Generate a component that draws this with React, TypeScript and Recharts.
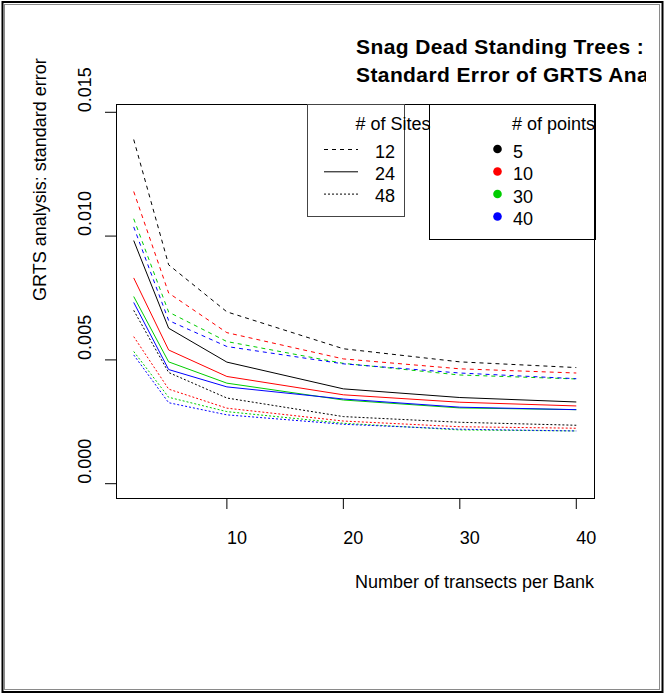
import { Label, Legend, Line, LineChart, ReferenceArea, XAxis, YAxis } from 'recharts'

// transects per bank (x) and standard error for each sites/points combination
const transects = [2, 5, 10, 20, 30, 40]

const se12p5 = [0.0139, 0.00884, 0.00694, 0.00545, 0.00492, 0.00469]
const se12p10 = [0.0118, 0.0077, 0.0061, 0.00504, 0.00464, 0.00447]
const se12p30 = [0.0107, 0.00693, 0.00574, 0.00486, 0.00439, 0.00423]
const se12p40 = [0.01037, 0.00659, 0.00554, 0.00484, 0.00447, 0.00424]

const se24p5 = [0.00982, 0.00628, 0.00491, 0.00383, 0.00348, 0.0033]
const se24p10 = [0.00831, 0.0054, 0.00433, 0.00359, 0.00329, 0.00314]
const se24p30 = [0.00756, 0.00492, 0.00406, 0.00338, 0.00306, 0.00299]
const se24p40 = [0.00732, 0.00461, 0.00391, 0.00342, 0.00309, 0.00299]

const se48p5 = [0.007, 0.00449, 0.00346, 0.00271, 0.00248, 0.00236]
const se48p10 = [0.00594, 0.00382, 0.00305, 0.00253, 0.0023, 0.00224]
const se48p30 = [0.00534, 0.00349, 0.00291, 0.00244, 0.00217, 0.00213]
const se48p40 = [0.0052, 0.00327, 0.00278, 0.0024, 0.0022, 0.00213]

const siteCounts = [12, 24, 48]
const pointCounts = [5, 10, 30, 40]
const xTicks = [10, 20, 30, 40]
const yTicks = [0, 0.005, 0.01, 0.015]

const series = [
  { sites: 12, points: 5, values: se12p5 },
  { sites: 12, points: 10, values: se12p10 },
  { sites: 12, points: 30, values: se12p30 },
  { sites: 12, points: 40, values: se12p40 },
  { sites: 24, points: 5, values: se24p5 },
  { sites: 24, points: 10, values: se24p10 },
  { sites: 24, points: 30, values: se24p30 },
  { sites: 24, points: 40, values: se24p40 },
  { sites: 48, points: 5, values: se48p5 },
  { sites: 48, points: 10, values: se48p10 },
  { sites: 48, points: 30, values: se48p30 },
  { sites: 48, points: 40, values: se48p40 },
]

const keyOf = (s: { sites: number; points: number }) => `s${s.sites}p${s.points}`

const rows = transects.map((x, i) => {
  const row: Record<string, number> = { x }
  series.forEach((s) => {
    row[keyOf(s)] = s.values[i]
  })
  return row
})

const DASH: Record<number, string | undefined> = { 12: '4 4', 24: undefined, 48: '2 2' }
const COLOR: Record<number, string> = { 5: '#000000', 10: '#ff0000', 30: '#00cd00', 40: '#0000ff' }

const FONT = '"Liberation Sans", Arial, Helvetica, sans-serif'
const W = 665
const H = 694
const PLOT = { left: 116, top: 104, right: 594, bottom: 498 }
const X_DOMAIN: [number, number] = [0.48, 41.52]
const Y_DOMAIN: [number, number] = [-0.000578, 0.015335]

function YTick({ x, y, payload }: any) {
  const bx = x - 12
  return (
    <text x={bx} y={y} transform={`rotate(-90 ${bx} ${y})`} fontSize={18} fontFamily={FONT} fill="#000">
      {Number(payload.value).toFixed(3)}
    </text>
  )
}

function XTick({ x, y, payload }: any) {
  return (
    <text x={x} y={y + 32.5} fontSize={18} fontFamily={FONT} fill="#000">
      {payload.value}
    </text>
  )
}

function LegendBoxes() {
  const t = { fontSize: 18, fontFamily: FONT, fill: '#000' }
  return (
    <svg width={300} height={145} style={{ display: 'block', overflow: 'visible' }}>
      <g transform="translate(-300 -100)">
        <rect x={307.5} y={104.5} width={97} height={112} fill="none" stroke="#444" />
        <text x={355.5} y={130} {...t}># of Sites</text>
        {siteCounts.map((n, i) => (
          <g key={n}>
            <line x1={324} x2={358} y1={149.5 + 22.3 * i} y2={149.5 + 22.3 * i} stroke="#000" strokeDasharray={DASH[n]} />
            <text x={375} y={158 + 22 * i} {...t}>{n}</text>
          </g>
        ))}
        <rect x={429.5} y={104.5} width={166} height={135} fill="none" stroke="#000" />
        <text x={512} y={130} {...t}># of points</text>
        {pointCounts.map((n, i) => (
          <g key={n}>
            <circle cx={497.5} cy={149 + 22.5 * i} r={4.3} fill={COLOR[n]} />
            <text x={513} y={158 + 22.4 * i} {...t}>{n}</text>
          </g>
        ))}
      </g>
    </svg>
  )
}

export default function App() {
  const cx = (PLOT.left + PLOT.right) / 2
  const cy = (PLOT.top + PLOT.bottom) / 2
  return (
    <div style={{ position: 'absolute', left: 0, top: 0, width: W, height: H, background: '#fff' }}>
      <LineChart
        width={W}
        height={H}
        data={rows}
        margin={{ top: PLOT.top, right: W - PLOT.right, bottom: 0, left: 0 }}
      >
        <XAxis
          dataKey="x"
          type="number"
          domain={X_DOMAIN}
          ticks={xTicks}
          allowDataOverflow
          height={H - PLOT.bottom}
          axisLine={false}
          tickLine={{ stroke: '#000' }}
          tickSize={11}
          tick={<XTick />}
        >
          <Label
            content={() => (
              <text x={cx} y={587.5} fontSize={18} fontFamily={FONT} fill="#000">
                Number of transects per Bank
              </text>
            )}
          />
        </XAxis>
        <YAxis
          type="number"
          domain={Y_DOMAIN}
          ticks={yTicks}
          allowDataOverflow
          width={PLOT.left}
          axisLine={false}
          tickLine={{ stroke: '#000' }}
          tickSize={11}
          tick={<YTick />}
        >
          <Label
            content={() => (
              <text x={46} y={cy} transform={`rotate(-90 46 ${cy})`} fontSize={18} fontFamily={FONT} fill="#000">
                GRTS analysis: standard error
              </text>
            )}
          />
        </YAxis>
        <ReferenceArea
          x1={X_DOMAIN[0]}
          x2={X_DOMAIN[1]}
          y1={Y_DOMAIN[0]}
          y2={Y_DOMAIN[1]}
          fill="none"
          stroke="#000"
          strokeWidth={1}
          shapeRendering="crispEdges"
        />
        {series.map((s) => (
          <Line
            key={keyOf(s)}
            dataKey={keyOf(s)}
            stroke={COLOR[s.points]}
            strokeDasharray={DASH[s.sites]}
            strokeWidth={1}
            dot={false}
            activeDot={false}
            type="linear"
            isAnimationActive={false}
          />
        ))}
        <Legend
          layout="horizontal"
          verticalAlign="middle"
          align="center"
          wrapperStyle={{ left: 300, top: 100, width: 300, height: 145 }}
          content={() => <LegendBoxes />}
        />
      </LineChart>
      <svg
        width={W}
        height={H}
        style={{ position: 'absolute', left: 0, top: 0, pointerEvents: 'none' }}
      >
        <defs>
          <clipPath id="titleClip">
            <rect x={0} y={0} width={646} height={H} />
          </clipPath>
        </defs>
        <g clipPath="url(#titleClip)" fontSize={21} fontWeight="bold" fontFamily={FONT} letterSpacing={0.4}>
          <text x={cx + 1} y={54}>Snag Dead Standing Trees :</text>
          <text x={cx + 1} y={82}>Standard Error of GRTS Analysis</text>
        </g>
        <rect x={2.5} y={2} width={660} height={690} fill="none" stroke="#000" strokeWidth={2} />
        <rect x={4.5} y={4.5} width={655} height={685} fill="none" stroke="#8a8a8a" strokeWidth={1} />
      </svg>
    </div>
  )
}
